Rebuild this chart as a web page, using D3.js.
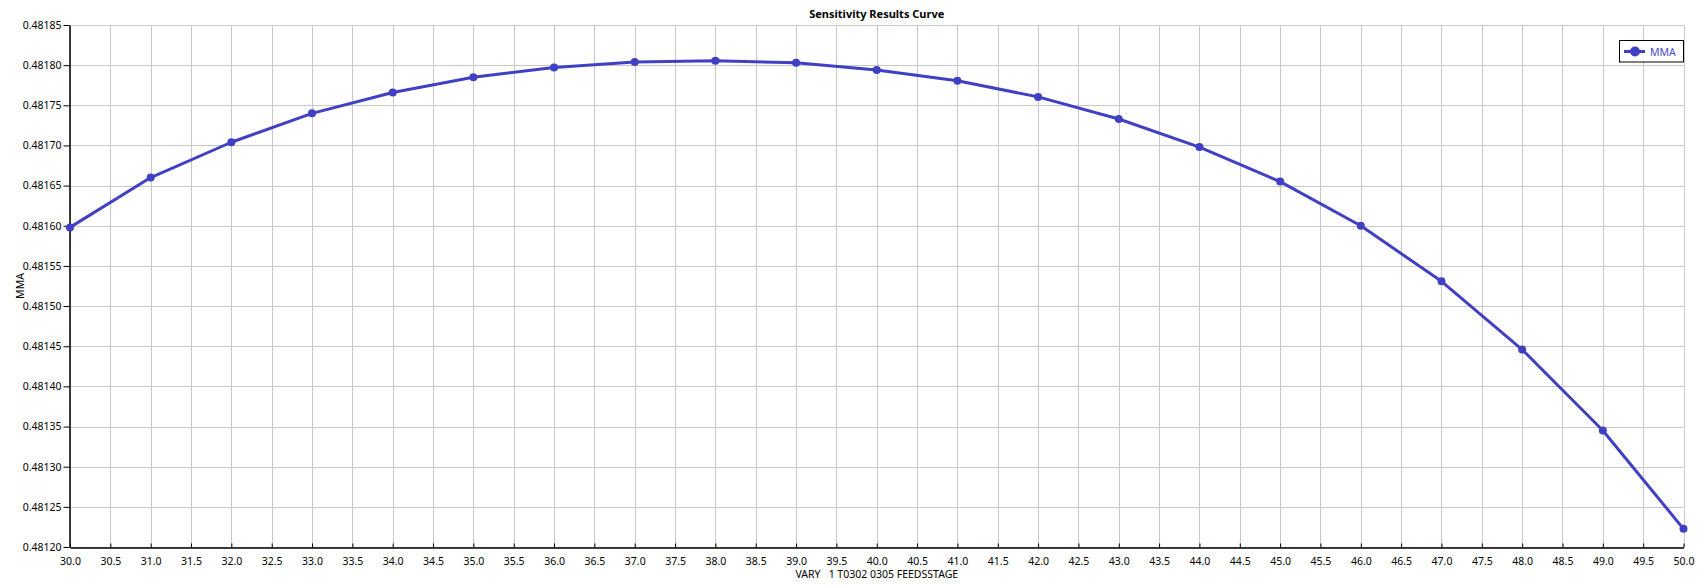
<!DOCTYPE html>
<html>
<head>
<meta charset="utf-8">
<script src="https://cdn.jsdelivr.net/npm/d3@7"></script>
<style>
html,body{margin:0;padding:0;background:#fff;}
svg{display:block;}
text{font-family:"Noto Sans","Open Sans",sans-serif;}
</style>
</head>
<body>
<svg id="chart" width="1700" height="585"></svg>
<script>
const stages = [30,31,32,33,34,35,36,37,38,39,40,41,42,43,44,45,46,47,48,49,50];
const mma = [0.481598,0.481660,0.481704,0.481740,0.481766,0.481785,0.481797,0.481804,0.4818054,0.481803,0.481794,0.4817805,0.4817605,0.481733,0.481698,0.481655,0.481600,0.4815308,0.4814458,0.481345,0.4812226];
const xTicks = d3.range(30, 50.001, 0.5);
const yTicks = [0.48120,0.48125,0.48130,0.48135,0.48140,0.48145,0.48150,0.48155,0.48160,0.48165,0.48170,0.48175,0.48180,0.48185];
const title = "Sensitivity Results Curve";
const xTitle = "VARY   1 T0302 0305 FEEDSSTAGE";
const yTitle = "MMA";
const seriesName = "MMA";

const margin = {left:70, right:1700-1683.5, top:25, bottom:585-547};
const W = 1700, H = 585;
const svg = d3.select("#chart");
const x = d3.scaleLinear().domain([30,50]).range([margin.left, W-margin.right]);
const y = d3.scaleLinear().domain([0.48120,0.48185]).range([H-margin.bottom, margin.top]);
const lineColor = "#4040c4";
const gridColor = "#c8c8c8";

// grid
svg.append("g").selectAll("line.vx").data(xTicks).join("line")
  .attr("x1", d=>Math.round(x(d))+0.5).attr("x2", d=>Math.round(x(d))+0.5)
  .attr("y1", margin.top).attr("y2", H-margin.bottom)
  .attr("stroke", gridColor).attr("stroke-width",1);
svg.append("g").selectAll("line.hy").data(yTicks).join("line")
  .attr("x1", margin.left).attr("x2", W-margin.right)
  .attr("y1", d=>Math.round(y(d))+0.5).attr("y2", d=>Math.round(y(d))+0.5)
  .attr("stroke", gridColor).attr("stroke-width",1);

// axes
const xAxis = d3.axisBottom(x).tickValues(xTicks).tickFormat(d3.format(".1f")).tickSizeInner(-4).tickSizeOuter(0).tickPadding(10);
const gx = svg.append("g").attr("transform",`translate(0,${Math.round(H-margin.bottom)+0.5})`).call(xAxis);
gx.select(".domain").attr("stroke","#000").attr("stroke-width",1.5);
gx.selectAll(".tick line").attr("stroke","#000");
gx.selectAll("text").attr("font-size","10.5px").attr("fill","#000");

const yAxis = d3.axisLeft(y).tickValues(yTicks).tickFormat(d3.format(".5f")).tickSizeInner(6).tickSizeOuter(0).tickPadding(2);
const gy = svg.append("g").attr("transform",`translate(${margin.left-0.5},0)`).call(yAxis);
gy.select(".domain").attr("stroke","#000").attr("stroke-width",1.5);
gy.selectAll(".tick line").attr("stroke","#000");
gy.selectAll("text").attr("font-size","10.5px").attr("fill","#000");

// line
const pts = stages.map((s,i)=>({x:s,y:mma[i]}));
svg.append("path").datum(pts)
  .attr("d", d3.line().x(d=>x(d.x)).y(d=>y(d.y)))
  .attr("fill","none").attr("stroke",lineColor).attr("stroke-width",3).attr("stroke-linejoin","round");
svg.append("g").selectAll("circle").data(pts).join("circle")
  .attr("cx", d=>x(d.x)).attr("cy", d=>y(d.y)).attr("r",4).attr("fill",lineColor);

// titles
svg.append("text").attr("x",(margin.left+W-margin.right)/2).attr("y",18)
  .attr("text-anchor","middle").attr("font-size","11px").attr("font-weight","bold").attr("fill","#000").text(title);
svg.append("text").attr("x",(margin.left+W-margin.right)/2).attr("y",578)
  .attr("text-anchor","middle").attr("font-size","10.5px").attr("fill","#000")
  .attr("xml:space","preserve").style("white-space","pre").text(xTitle);
svg.append("text").attr("transform",`translate(24,${(margin.top+H-margin.bottom)/2}) rotate(-90)`)
  .attr("text-anchor","middle").attr("font-size","10.5px").attr("fill","#000").text(yTitle);

// legend
const lg = svg.append("g");
lg.append("rect").attr("x",1619.5).attr("y",40.5).attr("width",64).attr("height",21.5)
  .attr("fill","#fff").attr("stroke","#000").attr("stroke-width",1);
lg.append("line").attr("x1",1624).attr("x2",1645).attr("y1",51.5).attr("y2",51.5)
  .attr("stroke",lineColor).attr("stroke-width",3);
lg.append("circle").attr("cx",1635).attr("cy",51.5).attr("r",5).attr("fill",lineColor);
lg.append("text").attr("x",1650).attr("y",55.5).attr("font-size","10.5px").attr("fill","#4a4ad0").text(seriesName);
</script>
</body>
</html>
